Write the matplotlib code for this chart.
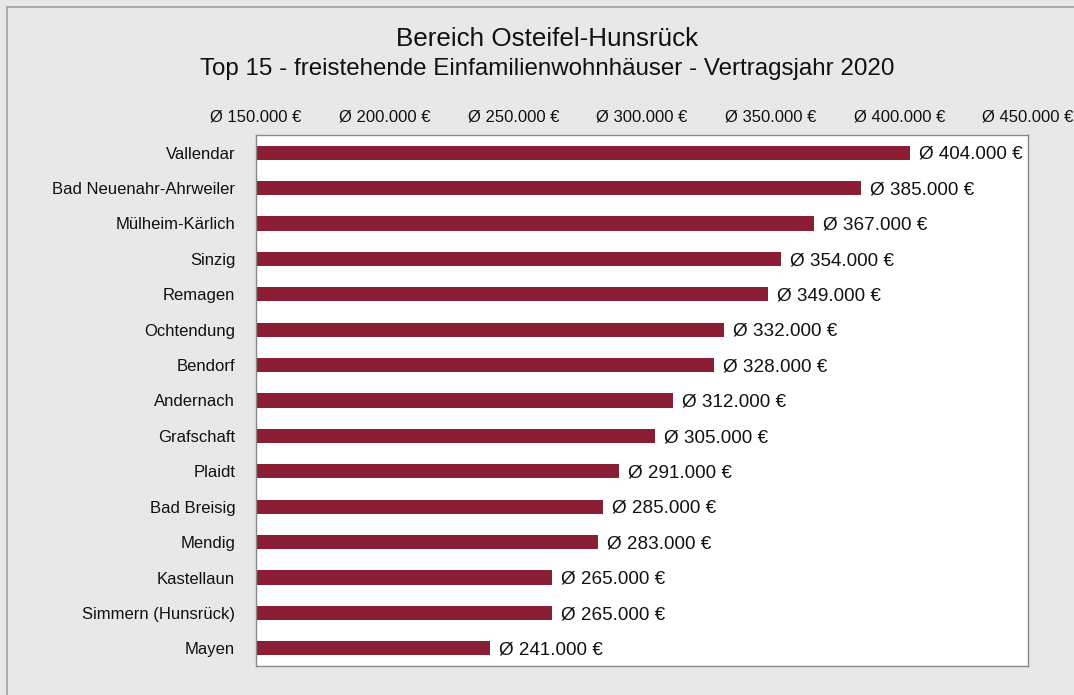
import matplotlib.pyplot as plt
import matplotlib
from matplotlib.patches import Rectangle
from matplotlib.ticker import FuncFormatter

plt.rcParams['font.family'] = ['Liberation Sans', 'DejaVu Sans']

staedte = ['Vallendar', 'Bad Neuenahr-Ahrweiler', 'Mülheim-Kärlich', 'Sinzig', 'Remagen',
           'Ochtendung', 'Bendorf', 'Andernach', 'Grafschaft', 'Plaidt', 'Bad Breisig',
           'Mendig', 'Kastellaun', 'Simmern (Hunsrück)', 'Mayen']
preise = [404000, 385000, 367000, 354000, 349000, 332000, 328000, 312000, 305000,
          291000, 285000, 283000, 265000, 265000, 241000]
x_ticks = [150000, 200000, 250000, 300000, 350000, 400000, 450000]


def fmt_euro(v, pos=None):
    return 'Ø ' + f'{int(v):,}'.replace(',', '.') + ' €'


fig = plt.figure(figsize=(10.74, 6.95), dpi=100)
fig.patch.set_facecolor('#e8e8e8')
# outer frame of the chart box
fig.patches.append(Rectangle((7 / 1074, -0.1), 1.2, 1 - 7 / 695 + 0.1, transform=fig.transFigure,
                             fill=False, edgecolor='#a0a0a0', linewidth=1.2))

ax = fig.add_axes([256 / 1074, 1 - 666 / 695, 772 / 1074, 531 / 695])
ax.set_facecolor('white')

base = x_ticks[0]
ypos = range(len(staedte))
ax.barh(ypos, [p - base for p in preise], left=base, height=0.4, color='#8b1e35')
for y, p in zip(ypos, preise):
    ax.text(p + 3500, y + 0.05, fmt_euro(p), va='center', ha='left', fontsize=13.6, color='#111111')

ax.set_xlim(150000, 450000)
ax.set_ylim(len(staedte) - 0.5, -0.5)
ax.set_yticks(list(ypos))
ax.set_yticklabels(staedte, fontsize=12, color='#111111')
ax.set_xticks(x_ticks)
ax.xaxis.set_major_formatter(FuncFormatter(fmt_euro))
ax.xaxis.tick_top()
ax.tick_params(axis='x', length=0, pad=7.5, labelsize=12, colors='#111111')
ax.tick_params(axis='y', length=0, pad=15)
for s in ax.spines.values():
    s.set_color('#888888')
    s.set_linewidth(1)

fig.text(547 / 1074, 1 - 39 / 695, 'Bereich Osteifel-Hunsrück', ha='center', va='center',
         fontsize=18.7, color='#111111')
fig.text(547 / 1074, 1 - 69.5 / 695, 'Top 15 - freistehende Einfamilienwohnhäuser - Vertragsjahr 2020',
         ha='center', va='center', fontsize=17.4, color='#111111')

fig.savefig('out.png', dpi=100, facecolor=fig.get_facecolor())
